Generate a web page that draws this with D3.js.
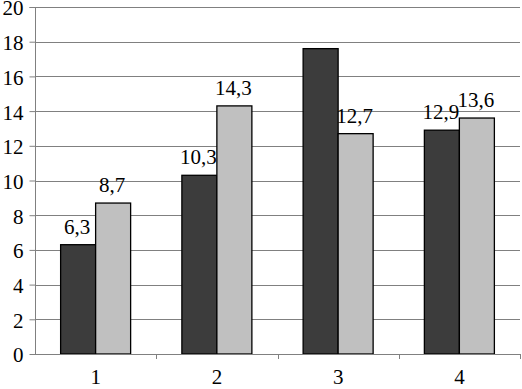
<!DOCTYPE html>
<html><head><meta charset="utf-8">
<script src="https://cdn.jsdelivr.net/npm/d3@7"></script>
<style>body{margin:0;background:#fff}svg{display:block}</style>
</head><body>
<svg id="c" width="522" height="389" font-family="Liberation Serif"></svg>
<script>
const categories = ["1","2","3","4"];
const seriesDark = [6.3, 10.3, 17.6, 12.9];
const seriesLight = [8.7, 14.3, 12.7, 13.6];
const darkLabels = ["6,3","10,3","","12,9"];
const lightLabels = ["8,7","14,3","12,7","13,6"];
const yTicks = [0,2,4,6,8,10,12,14,16,18,20];

const FONT = "Liberation Serif";
const FS = 21;
const svg = d3.select("#c");
const m = {l:35, r:520, t:7, b:354};

const x = d3.scaleBand().domain(categories).range([m.l, m.r]).paddingInner(0).paddingOuter(0);
const y = d3.scaleLinear().domain([0,20]).range([m.b, m.t]);

// gridlines
svg.append("g").selectAll("line").data(yTicks.filter(d=>d>0)).join("line")
  .attr("x1", m.l).attr("x2", m.r)
  .attr("y1", d=>Math.round(y(d))+0.5).attr("y2", d=>Math.round(y(d))+0.5)
  .attr("stroke", "#808080").attr("stroke-width", 1);

const barW = 35;
const bars = [];
categories.forEach((c,i)=>{
  const cx = x(c) + x.bandwidth()/2;
  bars.push({x: cx - barW, v: seriesDark[i], fill:"#3c3c3c", label: darkLabels[i]});
  bars.push({x: cx, v: seriesLight[i], fill:"#c0c0c0", label: lightLabels[i]});
});

svg.append("g").selectAll("rect").data(bars).join("rect")
  .attr("x", d=>d.x).attr("width", barW)
  .attr("y", d=>y(d.v)).attr("height", d=>y(0)-y(d.v))
  .attr("fill", d=>d.fill).attr("stroke", "#000").attr("stroke-width", 1.3);

svg.append("g").attr("font-family", FONT).selectAll("text").data(bars.filter(d=>d.label)).join("text")
  .attr("x", d=>d.x + barW/2 - 1).attr("y", d=>y(d.v) - 11)
  .attr("text-anchor","middle")
  .attr("font-family", FONT).attr("font-size", FS).attr("fill","#000")
  .text(d=>d.label);

// y axis
const ya = d3.axisLeft(y).tickValues(yTicks).tickSize(6).tickPadding(6).tickFormat(d3.format("d"));
const gy = svg.append("g").attr("transform", `translate(${m.l+0.5},0)`).call(ya)
  .attr("font-family", FONT).attr("font-size", FS);
gy.select(".domain").attr("stroke","#808080").attr("d", `M-6,${y(20)+0.5}H0V${y(0)}`);
gy.selectAll(".tick line").attr("stroke","#808080");
gy.selectAll(".tick text").attr("font-family", FONT).attr("font-size", FS).attr("fill","#000").attr("dy","0.38em");

// x axis
const xa = d3.axisBottom(x).tickSize(0).tickPadding(15);
const gx = svg.append("g").attr("transform", `translate(0,${m.b+0.5})`).call(xa)
  .attr("font-family", FONT).attr("font-size", FS);
gx.select(".domain").attr("stroke","#808080").attr("d", `M${m.l},0H${m.r}`);
gx.selectAll(".tick text").attr("font-family", FONT).attr("font-size", FS).attr("fill","#000");
// category boundary ticks
svg.append("g").selectAll("line").data(categories).join("line")
  .attr("x1", d=>Math.round(x(d)+x.bandwidth())+0.5).attr("x2", d=>Math.round(x(d)+x.bandwidth())+0.5)
  .attr("y1", m.b).attr("y2", m.b+5).attr("stroke","#808080");
</script>
</body></html>
